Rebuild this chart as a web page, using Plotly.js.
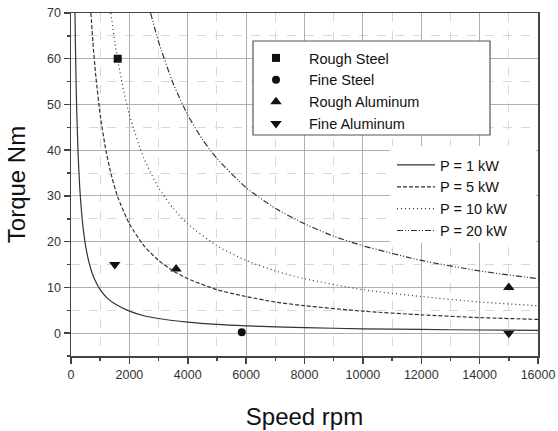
<!DOCTYPE html>
<html><head><meta charset="utf-8">
<script src="https://cdn.plot.ly/plotly-3.0.1.min.js"></script>
<style>body{margin:0;background:#fff}#chart{width:558px;height:431px}</style>
</head><body><div id="chart"></div>
<script>
// Power curves (torque Nm vs speed rpm)
const speed1kW  = [136,150,175,200,250,300,350,400,500,600,700,800,1000,1250,1500,2000,2500,3000,4000,5000,6000,8000,10000,12000,14000,16000];
const torque1kW = [70,63.7,54.6,47.7,38.2,31.8,27.3,23.9,19.1,15.9,13.6,11.9,9.5,7.6,6.4,4.8,3.8,3.2,2.4,1.9,1.6,1.2,0.95,0.8,0.68,0.6];
const speed5kW  = [682,750,850,1000,1200,1400,1600,2000,2500,3000,3500,4000,5000,6000,7000,8000,10000,12000,14000,16000];
const torque5kW = [70,63.7,56.2,47.7,39.8,34.1,29.8,23.9,19.1,15.9,13.6,11.9,9.5,8.0,6.8,6.0,4.8,4.0,3.4,3.0];
const speed10kW  = [1364,1500,1750,2000,2500,3000,3500,4000,5000,6000,7000,8000,10000,12000,14000,16000];
const torque10kW = [70,63.7,54.6,47.7,38.2,31.8,27.3,23.9,19.1,15.9,13.6,11.9,9.5,8.0,6.8,6.0];
const speed20kW  = [2728,3000,3500,4000,4500,5000,6000,7000,8000,9000,10000,12000,14000,16000];
const torque20kW = [70,63.7,54.6,47.7,42.4,38.2,31.8,27.3,23.9,21.2,19.1,15.9,13.6,11.9];

// Measured points
const roughSteelX = [1600],        roughSteelY = [60];
const fineSteelX  = [5850],        fineSteelY  = [0.2];
const roughAlX    = [3600, 15000], roughAlY    = [14, 10];
const fineAlX     = [1500, 15000], fineAlY     = [15, 0];

const xTicks = [0,2000,4000,6000,8000,10000,12000,14000,16000];
const yTicks = [0,10,20,30,40,50,60,70];
const xMinor = [1000,3000,5000,7000,9000,11000,13000,15000];
const yMinor = [-5,5,15,25,35,45,55,65];

const lineCol = '#333';
function curve(x,y,name,dash){
  return {x:x,y:y,name:name,type:'scatter',mode:'lines',legend:'legend2',
    line:{color:lineCol,width:1.2,dash:dash,shape:'spline',smoothing:0.6}};
}
function pts(x,y,name,sym,size){
  return {x:x,y:y,name:name,type:'scatter',mode:'markers',legend:'legend',
    marker:{color:'#111',size:size,symbol:sym}};
}
const data = [
  pts(roughSteelX,roughSteelY,'Rough Steel','square',8),
  pts(fineSteelX,fineSteelY,'Fine Steel','circle',8),
  pts(roughAlX,roughAlY,'Rough Aluminum','triangle-up',10),
  pts(fineAlX,fineAlY,'Fine Aluminum','triangle-down',10),
  curve(speed1kW,torque1kW,'P = 1 kW','solid'),
  curve(speed5kW,torque5kW,'P = 5 kW','4px,2px'),
  curve(speed10kW,torque10kW,'P = 10 kW','1px,3px'),
  curve(speed20kW,torque20kW,'P = 20 kW','6px,2px,1px,2px,1px,2px')
];
const font = {family:'"Liberation Sans", Arial, sans-serif', color:'#222'};
const axisCommon = {
  showline:true, linecolor:'#444', linewidth:1.5, mirror:true,
  ticks:'outside', ticklen:6, tickwidth:1.5, tickcolor:'#444',
  showgrid:true, gridcolor:'#b0b0b0', gridwidth:1, zeroline:false,
  tickfont:{size:12.5, color:'#333', family:font.family}
};
const layout = {
  width:558, height:431,
  margin:{l:71, r:20, t:13, b:75},
  paper_bgcolor:'#fff', plot_bgcolor:'#fff',
  font:font,
  showlegend:true,
  xaxis:Object.assign({}, axisCommon, {
    range:[0,16000], tickvals:xTicks, ticktext:xTicks.map(String),
    minor:{tickvals:xMinor, ticks:'outside', ticklen:3, tickcolor:'#444',
           showgrid:true, gridcolor:'#d8d8d8', griddash:'dash', gridwidth:1},
    title:{text:'Speed rpm', font:{size:24, color:'#111'}, standoff:27}
  }),
  yaxis:Object.assign({}, axisCommon, {
    range:[-5,70], tickvals:yTicks, ticktext:yTicks.map(String),
    minor:{tickvals:yMinor, ticks:'outside', ticklen:3, tickcolor:'#444',
           showgrid:true, gridcolor:'#d8d8d8', griddash:'dash', gridwidth:1},
    title:{text:'Torque Nm', font:{size:24, color:'#111'}, standoff:14}
  }),
  shapes:[
    {type:'rect', xref:'paper', yref:'paper', layer:'above',
     x0:(253-71)/467, x1:(490-71)/467, y0:(356-135)/343, y1:(356-41)/343,
     fillcolor:'#fff', line:{color:'#555', width:1.2}},
    {type:'rect', xref:'paper', yref:'paper', layer:'above',
     x0:(390-71)/467, x1:(536-71)/467, y0:(356-243)/343, y1:(356-146)/343,
     fillcolor:'#fff', line:{width:0}}
  ],
  legend:{x:(243-71)/467, y:(356-42)/343, xanchor:'left', yanchor:'top',
    bgcolor:'rgba(0,0,0,0)', borderwidth:0, font:{size:14.5, color:'#111'}, itemwidth:56},
  legend2:{x:(392-71)/467, y:(356-149)/343, xanchor:'left', yanchor:'top',
    bgcolor:'rgba(0,0,0,0)', borderwidth:0, font:{size:14.5, color:'#111'}, itemwidth:38}
};
Plotly.newPlot('chart', data, layout, {displayModeBar:false, staticPlot:true});
</script></body></html>
